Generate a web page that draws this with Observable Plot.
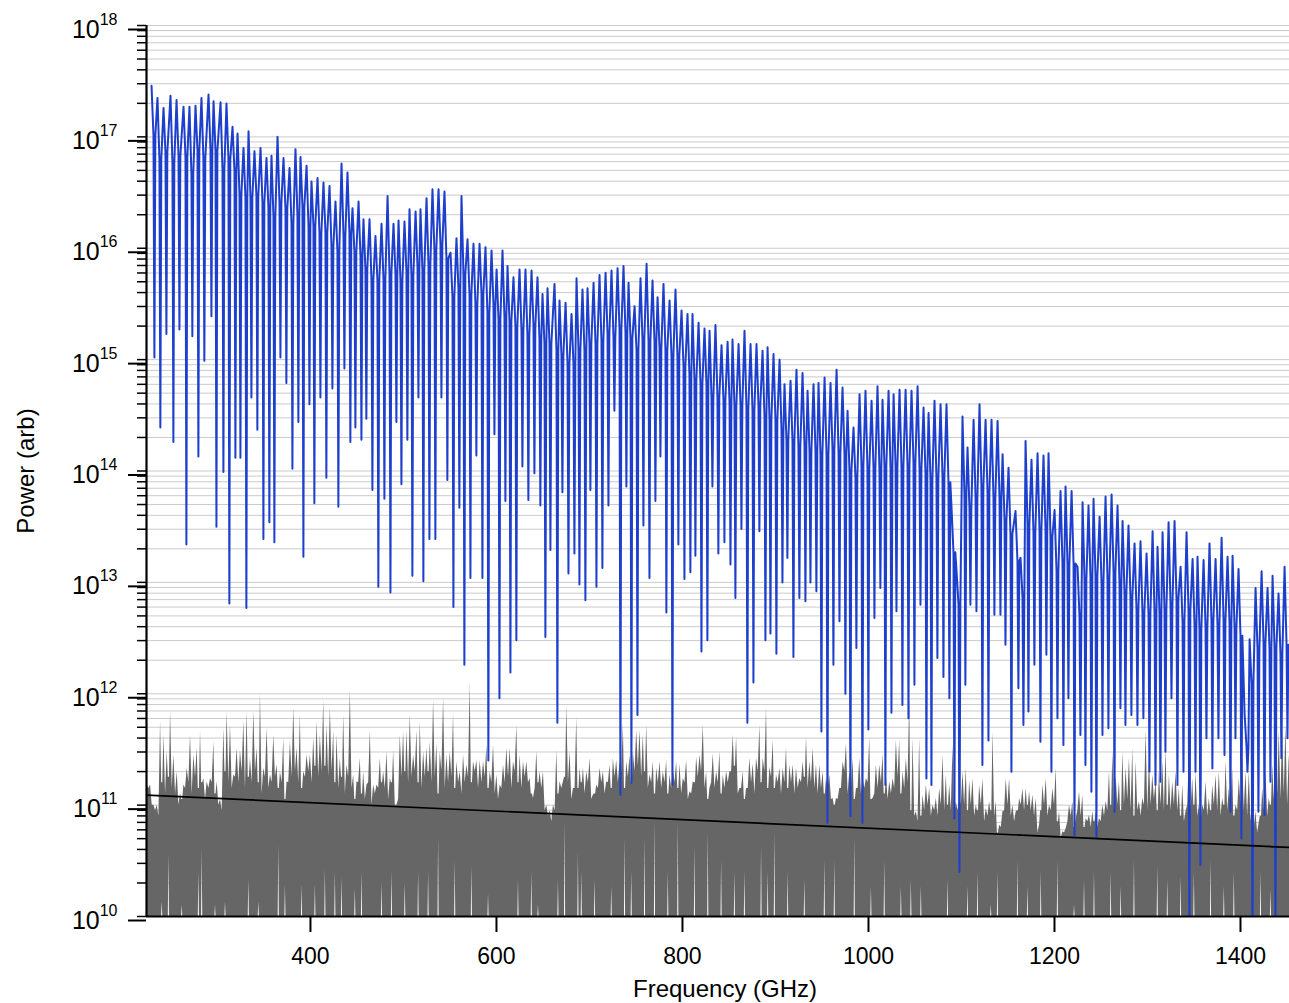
<!DOCTYPE html>
<html><head><meta charset="utf-8">
<script src="https://cdn.jsdelivr.net/npm/d3@7"></script>
<script src="https://cdn.jsdelivr.net/npm/@observablehq/plot@0.6"></script>
<style>html,body{margin:0;padding:0;background:#fff;overflow:hidden}</style>
</head><body><div id="chart"></div>
<script>
// Blue spectrum: one entry per comb tooth (frequency of tooth peak, GHz), log10 power levels
const combFreqGHz = [229.1,235.5,242.0,249.5,256.0,263.5,269.9,276.4,282.8,290.4,
295.8,303.3,309.7,316.2,321.6,328.0,333.4,339.8,346.3,352.7,
358.1,364.6,371.0,377.5,383.9,389.3,395.8,401.1,407.6,414.0,
420.5,426.9,433.4,439.8,445.2,451.7,457.0,463.5,469.9,476.4,
482.9,489.3,494.7,501.1,506.5,513.0,518.3,524.8,531.2,537.7,
544.1,550.6,557.0,562.4,568.9,575.3,581.8,588.2,594.7,600.1,
606.5,611.9,618.3,624.8,631.2,637.7,644.1,649.5,654.9,662.4,
667.8,674.3,680.7,686.1,692.5,697.9,704.4,710.8,717.3,723.7,
730.2,736.6,742.0,748.5,754.9,761.4,767.8,773.2,779.6,786.1,
792.5,799.0,805.4,810.8,817.3,823.7,829.1,835.5,842.0,848.5,
853.8,860.3,866.7,873.2,879.6,886.1,891.5,897.9,904.4,909.7,
916.2,922.6,929.1,934.5,940.9,946.3,952.8,959.2,965.7,972.1,
977.5,983.9,990.4,996.8,1003.3,1009.7,1015.1,1021.6,1027.0,1033.4,
1039.9,1046.3,1052.8,1059.2,1064.6,1071.0,1077.5,1083.9,1089.3,1094.7,
1101.1,1106.5,1113.0,1119.4,1125.9,1132.3,1138.8,1144.2,1150.6,1158.1,
1163.5,1168.9,1175.3,1181.8,1188.2,1193.6,1200.1,1206.5,1211.9,1218.4,
1224.8,1230.2,1236.6,1242.0,1248.5,1254.9,1261.4,1267.8,1273.2,1279.6,
1286.1,1292.5,1299.0,1305.5,1310.8,1316.2,1322.7,1329.1,1335.6,1342.0,
1348.5,1353.8,1360.3,1366.7,1373.2,1379.7,1386.1,1391.5,1397.9,1404.4,
1409.8,1416.2,1422.7,1429.1,1434.5,1440.9,1447.4];
const combPeakLog10 = [17.46,17.35,17.26,17.37,17.33,17.27,17.27,17.28,17.35,17.38,
17.32,17.31,17.30,17.09,17.03,16.90,17.05,16.87,16.90,16.81,
16.83,17.00,16.81,16.72,16.89,16.82,16.74,16.60,16.63,16.59,
16.56,16.42,16.76,16.68,16.36,16.42,16.26,16.26,16.11,16.22,
16.47,16.22,16.25,16.24,16.35,16.33,16.35,16.45,16.53,16.53,
16.51,15.96,16.09,16.47,16.08,16.04,16.04,16.01,15.98,15.81,
15.98,15.84,15.74,15.81,15.81,15.80,15.74,15.59,15.64,15.68,
15.53,15.51,15.41,15.73,15.63,15.64,15.69,15.76,15.78,15.80,
15.82,15.84,15.69,15.48,15.73,15.86,15.71,15.56,15.68,15.53,
15.63,15.44,15.41,15.41,15.33,15.28,15.26,15.31,15.13,15.16,
15.18,15.14,15.26,15.14,15.14,15.08,15.11,15.05,15.00,14.78,
14.81,14.91,14.88,14.72,14.78,14.79,14.84,14.79,14.91,14.75,
14.54,14.39,14.69,14.72,14.63,14.76,14.64,14.72,14.69,14.73,
14.73,14.72,14.76,14.57,14.52,14.63,14.60,14.60,13.67,13.10,
14.49,14.21,14.46,14.60,14.46,14.46,14.45,14.15,14.03,13.64,
13.22,14.27,14.10,14.16,14.14,14.16,13.65,13.82,13.86,13.82,
13.14,13.72,13.69,13.75,13.59,13.77,13.79,13.69,13.55,13.51,
13.35,13.37,13.26,13.46,13.32,13.45,13.54,13.55,13.14,13.45,
13.21,13.23,13.20,13.35,13.21,13.40,13.23,13.24,13.12,11.82,
12.49,12.95,13.10,12.95,13.06,12.90,13.14];
const combShoulderLog10 = [17.01,16.80,16.86,16.77,16.83,16.82,16.67,16.88,16.80,16.88,
16.87,16.71,16.80,16.69,16.48,16.45,16.45,16.47,16.40,16.36,
16.28,16.40,16.36,16.22,16.29,16.37,16.19,16.20,16.13,16.14,
16.01,15.97,16.11,16.13,15.96,15.92,15.81,15.71,15.71,15.72,
15.77,15.77,15.70,15.79,15.75,15.83,15.80,15.85,15.98,16.03,
15.91,15.56,15.64,15.77,15.58,15.49,15.59,15.41,15.48,15.36,
15.38,15.34,15.29,15.26,15.21,15.30,15.19,15.14,15.14,15.08,
15.03,14.96,14.96,15.08,15.08,15.14,15.14,15.16,15.23,15.20,
15.27,15.24,15.19,15.08,15.18,15.16,15.16,15.11,15.08,15.03,
15.03,14.94,14.86,14.81,14.78,14.78,14.66,14.66,14.63,14.61,
14.58,14.59,14.56,14.54,14.59,14.48,14.46,14.45,14.35,14.28,
14.26,14.21,14.23,14.17,14.18,14.14,14.14,14.19,14.16,14.15,
13.99,13.94,14.04,14.02,14.03,14.01,14.04,14.02,14.04,14.03,
14.03,14.07,14.01,13.97,13.92,13.93,13.95,13.90,13.27,12.80,
13.79,13.66,13.76,13.85,13.81,13.76,13.75,13.55,13.43,13.19,
12.87,13.52,13.45,13.46,13.49,13.41,13.10,13.17,13.16,13.17,
12.69,13.02,13.04,13.05,12.99,13.02,13.09,12.99,12.90,12.86,
12.75,12.72,12.71,12.71,12.72,12.75,12.79,12.85,12.64,12.75,
12.61,12.58,12.60,12.65,12.61,12.65,12.63,12.59,12.52,11.52,
12.09,12.40,12.45,12.40,12.41,12.35,12.44];
const combDipLog10 = [15.02,14.39,15.23,14.26,15.27,13.34,15.21,14.13,14.99,15.39,
13.50,13.99,12.81,14.12,14.12,12.77,14.66,14.37,13.39,13.54,
13.36,15.02,14.79,14.02,14.44,13.23,14.60,13.71,14.66,13.94,
14.74,13.68,14.92,14.26,14.39,14.28,14.47,13.83,12.96,13.75,
12.91,14.44,13.88,14.28,13.06,14.66,13.01,13.39,13.39,14.66,
13.92,12.78,13.67,12.26,13.04,14.14,13.04,11.40,14.33,11.96,
13.73,12.19,12.48,14.04,13.74,13.98,13.69,12.51,13.29,11.74,
13.81,13.08,13.26,12.98,12.84,13.83,12.96,13.13,13.69,14.54,
11.09,13.86,11.20,11.81,13.51,13.04,13.73,14.13,12.73,11.18,
13.34,13.03,13.09,13.24,12.38,12.48,13.86,13.26,13.36,13.16,
12.86,13.48,11.74,12.10,13.46,12.48,12.54,12.36,13.00,13.22,
12.33,12.86,12.83,13.00,12.92,11.66,10.84,12.26,12.65,12.00,
10.90,12.41,10.84,11.68,12.68,12.95,11.18,11.83,12.74,11.90,
11.78,12.08,12.80,11.24,11.18,12.32,12.15,11.96,10.88,10.40,
12.08,12.80,12.74,11.36,11.58,12.71,12.71,12.44,11.30,12.05,
11.72,11.84,12.26,11.57,12.35,11.30,11.78,11.54,11.96,10.73,
11.63,11.36,11.12,10.70,11.63,11.69,10.94,11.87,11.72,11.81,
11.72,11.78,11.30,11.18,11.21,11.48,11.96,11.18,11.30,9.80,
11.30,10.46,11.60,11.33,11.60,11.45,10.94,11.60,10.70,11.30,
9.80,10.94,10.91,11.21,9.80,11.42,11.60];
// position of peak, shoulder, dip, shoulder inside one tooth (GHz after the tooth peak)
const toothProfileGHz = [0, 2.1, 3.1, 4.1];

// Grey noise spectrum, sampled every noiseStepGHz: spike tops and the level reached between spikes
const noiseStartGHz = 224.5, noiseStepGHz = 3.58;
const noiseTopLog10 = [11.18,11.18,11.0,11.0,11.75,11.63,11.48,11.84,11.45,11.3,
11.1,11.18,11.33,11.63,11.45,11.51,11.66,11.24,11.21,11.24,
11.57,11.21,11.05,11.69,11.84,11.72,11.27,11.51,11.49,11.75,
11.84,11.42,11.84,11.51,12.0,11.33,11.69,11.27,11.63,11.36,
11.3,11.6,11.21,11.57,11.87,11.51,11.81,11.3,11.45,11.45,
11.6,11.75,11.63,11.94,11.72,11.87,11.66,11.63,11.42,11.81,
11.36,12.03,11.27,11.21,11.42,11.3,11.18,11.67,11.18,11.18,
11.42,11.3,11.48,11.24,11.49,11.0,11.63,11.66,11.67,11.81,
11.45,11.67,11.75,11.48,11.51,11.57,11.94,11.55,11.48,11.96,
11.45,11.48,11.82,11.39,11.3,11.45,11.36,12.1,11.39,11.4,
11.4,11.39,11.54,11.3,11.54,11.27,11.18,11.36,11.51,11.51,
11.39,11.72,11.45,11.39,11.39,
11.24,11.06,11.48,11.3,11.3,11.0,10.95,11.0,11.49,11.21,
11.21,11.9,11.48,11.15,11.79,11.33,11.33,11.3,11.42,11.09,
11.18,11.33,11.3,11.21,11.36,11.42,11.4,11.39,11.72,11.39,
11.45,11.48,11.67,11.67,11.63,11.72,11.27,11.39,11.33,11.39,
11.3,11.4,11.27,11.33,11.39,11.37,11.24,11.4,11.12,11.21,
11.43,11.45,11.72,11.3,11.15,11.46,11.3,11.48,11.27,11.3,
11.3,11.63,11.61,11.15,11.3,11.15,11.42,11.37,11.42,11.72,
11.42,11.87,11.34,11.58,11.27,11.33,11.33,11.51,11.36,11.36,
11.33,11.24,11.39,11.61,11.39,11.51,11.36,11.36,11.3,11.24,
11.27,11.06,11.06,11.15,11.39,11.55,11.3,11.42,11.15,11.42,
11.24,11.24,11.61,11.06,11.36,11.36,11.46,11.27,11.21,11.24,
11.58,11.58,11.3,11.42,
11.96,11.6,10.94,11.6,11.09,11.18,11.15,11.0,11.06,11.15,
11.45,11.27,11.18,11.54,11.03,11.06,11.3,11.33,11.22,11.24,
11.0,11.18,11.24,10.97,11.03,11.66,11.03,10.82,10.94,11.24,
11.24,11.0,10.94,11.06,11.15,11.15,11.12,11.09,11.06,10.82,
11.18,11.24,11.0,11.15,11.33,10.94,10.76,10.79,11.0,11.03,
10.88,11.12,11.09,10.88,10.91,10.94,10.94,10.88,11.0,11.03,
11.3,11.48,11.27,11.21,11.48,11.33,11.42,11.51,11.39,11.03,
11.06,11.67,11.42,11.27,11.21,11.3,11.39,11.51,11.27,11.21,
11.3,11.15,11.18,10.94,11.45,11.24,11.3,11.0,11.0,11.21,
11.06,11.18,11.27,11.3,11.06,11.39,11.15,11.33,11.0,11.24,
11.42,11.3,11.3,11.06,10.94,10.85,11.15,11.3,11.06,11.36,
11.45,11.66,11.69,11.72,11.45];
const noiseValleyLog10 = [11.15,11.0,10.95,10.9,11.2,11.1,11.25,11.15,11.1,11.0,
11.05,11.15,11.2,11.1,11.25,11.15,11.2,11.05,11.15,11.2,
11.1,11.0,10.95,11.3,11.2,11.15,11.25,11.2,11.3,11.15,
11.25,11.2,11.3,11.2,11.1,11.25,11.15,11.2,11.25,11.15,
11.2,11.05,11.2,11.25,11.3,11.2,11.15,11.25,11.3,11.2,
11.35,11.25,11.3,11.35,11.25,11.3,11.2,11.15,11.25,11.1,
11.25,11.15,11.05,11.2,11.1,11.05,11.2,11.0,11.1,11.15,
11.2,11.15,11.05,11.2,11.0,11.05,11.25,11.3,11.2,11.25,
11.3,11.2,11.15,11.25,11.3,11.2,11.25,11.1,11.3,11.15,
11.2,11.25,11.15,11.2,11.1,11.2,11.25,11.2,11.3,11.15,
11.2,11.25,11.15,11.2,11.1,11.05,11.15,11.2,11.25,11.15,
11.3,11.2,11.15,11.25,11.2,
11.1,11.15,11.2,11.15,10.95,10.9,10.85,10.95,11.1,11.15,
11.25,11.2,11.05,11.15,11.15,11.2,11.1,11.2,11.05,11.1,
11.15,11.2,11.1,11.2,11.15,11.25,11.2,11.3,11.15,11.25,
11.2,11.3,11.35,11.25,11.3,11.15,11.2,11.1,11.2,11.15,
11.2,11.1,11.15,11.2,11.15,11.1,11.2,11.05,11.1,11.2,
11.25,11.3,11.15,11.05,11.2,11.15,11.2,11.1,11.15,11.2,
11.3,11.35,11.1,11.15,11.05,11.15,11.2,11.1,11.3,11.2,
11.3,11.15,11.25,11.15,11.2,11.1,11.2,11.15,11.2,11.1,
11.15,11.2,11.25,11.15,11.2,11.15,11.1,11.15,11.1,11.15,
11.05,11.0,11.05,11.15,11.3,11.1,11.15,11.05,11.15,11.1,
11.15,11.2,11.05,11.1,11.15,11.2,11.1,11.05,11.1,11.15,
11.25,11.1,11.15,11.2,
10.95,10.9,10.85,10.9,10.95,11.0,10.9,10.95,10.9,11.0,
10.95,11.0,10.95,10.9,10.95,11.0,11.0,10.95,11.0,10.9,
10.95,11.0,10.85,10.9,10.95,10.9,10.75,10.8,10.95,11.0,
10.9,10.85,10.95,11.0,10.95,11.0,10.95,10.9,10.75,10.95,
11.0,10.9,10.95,11.0,10.85,10.7,10.75,10.85,10.9,10.8,
10.95,10.9,10.8,10.85,10.8,10.85,10.8,10.85,10.9,10.95,
11.0,10.95,11.0,10.95,11.0,11.05,10.95,10.9,10.95,10.9,
11.0,10.95,11.0,11.05,10.95,11.0,10.95,11.0,10.95,11.0,
10.95,10.9,10.85,11.0,10.95,11.0,10.9,10.85,10.95,10.9,
10.95,11.0,10.95,10.9,11.0,10.95,11.0,10.9,10.95,11.0,
10.95,10.9,10.85,10.8,10.75,10.9,10.95,10.9,11.0,11.05,
11.1,11.05,11.1,11.0,11.05];
// samples where the grey trace never reaches the bottom of the frame (white streaks), with their lowest level
const noiseGapSample = [4,6,10,15,16,20,23,30,33,39,41,46,50,53,56,58,62,64,70,73,77,81,84,87,92,97,102,111,
115,117,123,125,129,130,134,139,143,145,149,152,156,159,164,168,172,176,179,184,186,188,192,197,203,206,212,217,221,226,
229,232,240,246,249,253,255,261,264,268,273,278,281,284,289,292,296,303,306,310,314,319,323,326,334,337];
const noiseGapLog10 = [10.13,10.56,10.1,10.4,10.6,10.1,10.13,10.33,10.13,10.64,10.28,10.28,10.28,10.42,10.4,10.35,10.25,10.4,10.3,10.4,10.3,10.4,10.4,10.7,10.5,10.45,10.2,10.33,
10.4,10.1,10.33,10.85,10.57,10.4,10.33,10.27,10.7,10.4,10.7,10.85,10.4,10.85,10.63,10.75,10.5,10.4,10.4,10.63,10.4,10.75,10.4,10.33,10.5,10.5,10.7,10.27,10.5,10.27,
10.33,10.27,10.33,10.27,10.4,10.1,10.4,10.5,10.27,10.4,10.5,10.1,10.33,10.4,10.4,10.27,10.5,10.45,10.33,10.36,10.4,10.5,10.27,10.4,10.4,10.24];
const gapHalfWidthGHz = 0.6; // white streaks are about one pixel wide

// Black straight fit line (end points)
const fitFreqGHz = [223.7, 1452.7];
const fitLog10 = [11.09, 10.62];

const xTicks = [400, 600, 800, 1000, 1200, 1400];
const yDecades = [1e10, 1e11, 1e12, 1e13, 1e14, 1e15, 1e16, 1e17, 1e18];

// tables built from the arrays above
const comb = [];
combFreqGHz.forEach((f, i) => {
  const lv = [combPeakLog10[i], combShoulderLog10[i], combDipLog10[i], combShoulderLog10[i]];
  toothProfileGHz.forEach((o, j) => comb.push({f: f + o, p: Math.pow(10, lv[j])}));
});
const gapAt = new Map(noiseGapSample.map((s, k) => [s, noiseGapLog10[k]]));
const noise = [];
noiseTopLog10.forEach((v, i) => {
  const f = noiseStartGHz + i * noiseStepGHz;
  const fv = f + noiseStepGHz / 2, pv = Math.pow(10, noiseValleyLog10[i]);
  noise.push({f, lo: 1e10, p: Math.pow(10, v)});
  if (gapAt.has(i)) {
    noise.push({f: fv - gapHalfWidthGHz, lo: 1e10, p: pv});
    noise.push({f: fv, lo: Math.pow(10, gapAt.get(i)), p: pv});
    noise.push({f: fv + gapHalfWidthGHz, lo: 1e10, p: pv});
  } else {
    noise.push({f: fv, lo: 1e10, p: pv});
  }
});
const fit = fitFreqGHz.map((f, i) => ({f, p: Math.pow(10, fitLog10[i])}));
const minorTicks = d3.scaleLog().domain([1e10, 1e18]).ticks();

const chart = Plot.plot({
  width: 1289, height: 1003,
  marginLeft: 146, marginRight: 0, marginTop: 25, marginBottom: 87,
  style: {fontFamily: "'Liberation Sans', Arial, sans-serif", background: "#fff", color: "#000", overflow: "visible"},
  x: {domain: [223.7, 1452.7], axis: null, label: null},
  y: {type: "log", domain: [1e10, 1e18], axis: null, label: null},
  marks: [
    Plot.gridY(minorTicks, {stroke: "#cbcbcb", strokeOpacity: 1, strokeWidth: 1}),
    Plot.areaY(noise, {x: "f", y1: "lo", y2: "p", fill: "#666666", clip: true}),
    Plot.line(comb, {x: "f", y: "p", stroke: "#1d3fcc", strokeWidth: 2, clip: true}),
    Plot.line(fit, {x: "f", y: "p", stroke: "#000", strokeWidth: 1.7, clip: true}),
    Plot.axisY(minorTicks, {tickSize: 9, tickFormat: () => "", strokeWidth: 1.5, label: null}),
    Plot.axisY(yDecades, {tickSize: 18, tickPadding: 11, fontSize: 25, dy: 4, strokeWidth: 2, label: null,
      tickFormat: d => "10^" + Math.round(Math.log10(d))}),
    Plot.axisX(xTicks, {tickSize: 16, tickPadding: 15, fontSize: 23, strokeWidth: 2, label: null,
      tickFormat: d => String(d)}),
    Plot.ruleX([223.7], {strokeWidth: 2.2}),
    Plot.ruleY([1e10], {strokeWidth: 2.2}),
    Plot.text(["Frequency (GHz)"], {frameAnchor: "bottom", dx: 7, dy: 80, fontSize: 24}),
    Plot.text(["Power (arb)"], {frameAnchor: "left", dx: -120, rotate: -90, textAnchor: "middle", fontSize: 24})
  ]
});

// render exponents of the decade labels as superscripts
d3.select(chart).selectAll("text").each(function () {
  const m = /^10\^(\d+)$/.exec(this.textContent);
  if (m) {
    this.textContent = "10";
    const ts = document.createElementNS("http://www.w3.org/2000/svg", "tspan");
    ts.setAttribute("dy", "-13");
    ts.setAttribute("font-size", "16");
    ts.textContent = m[1];
    this.appendChild(ts);
  }
});
document.getElementById("chart").append(chart);
</script>
</body></html>
